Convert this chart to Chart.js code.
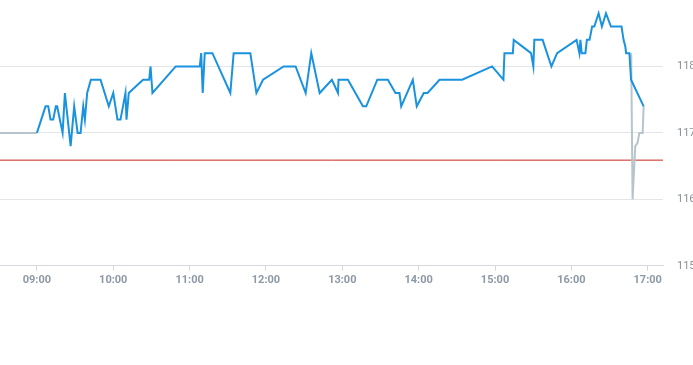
<!DOCTYPE html>
<html>
<head>
<meta charset="utf-8">
<script src="https://cdn.jsdelivr.net/npm/chart.js@4/dist/chart.umd.min.js"></script>
<style>
html,body{margin:0;padding:0;background:#fff;}
#wrap{position:relative;width:693px;height:290px;}
</style>
</head>
<body>
<div id="wrap"><canvas id="c"></canvas></div>
<script>
// minutes after 09:00
const priceTimes = [0,6.8,8.9,10.7,12.8,14.9,15.9,20.2,22.0,26.5,29.3,32.0,34.3,36.4,37.7,39.5,42.4,50.0,56.5,60.0,63.3,65.7,69.6,70.4,72.2,83.4,88.2,89.3,90.8,109.1,128.0,129.1,130.3,131.9,137.9,152.0,154.6,167.7,172.5,177.7,193.9,203.3,211.2,215.6,222.2,231.8,236.6,237.0,244.4,256.2,258.8,267.5,275.8,281.8,284.9,286.3,295.4,298.5,304.0,307.0,316.4,334.2,357.7,366.6,367.4,374.0,374.7,388.3,390.1,390.9,397.4,404.3,408.8,424.1,426.3,427.1,428.1,431.0,432.2,434.3,436.3,438.0,441.4,444.0,447.2,451.1,459.4,461.0,462.4,463.0,465.6,466.9,476.8];
const priceValues = [117.0,117.4,117.4,117.2,117.2,117.4,117.4,117.0,117.6,116.8,117.4,117.0,117.0,117.4,117.2,117.6,117.8,117.8,117.4,117.6,117.2,117.2,117.6,117.2,117.6,117.8,117.8,118.0,117.6,118.0,118.0,118.2,117.6,118.2,118.2,117.6,118.2,118.2,117.6,117.8,118.0,118.0,117.6,118.2,117.6,117.8,117.6,117.8,117.8,117.4,117.4,117.8,117.8,117.6,117.6,117.4,117.8,117.4,117.6,117.6,117.8,117.8,118.0,117.8,118.2,118.2,118.4,118.2,118.0,118.4,118.4,118.0,118.2,118.4,118.2,118.4,118.2,118.2,118.4,118.4,118.6,118.6,118.8,118.6,118.8,118.6,118.6,118.4,118.3,118.2,118.2,117.8,117.4];
const extTimes = [-29,0,null,467.0,468.1,470.2,472.0,473.4,476.0,476.8];
const extValues = [117.0,117.0,null,118.2,116.0,116.8,116.85,117.0,117.0,117.4];
const refLevel = 116.59;
const yTickValues = [115,116,117,118];
const xTickMinutes = [0,60,120,180,240,300,360,420,480];
const xTickLabels = ["09:00","10:00","11:00","12:00","13:00","14:00","15:00","16:00","17:00"];
const xMin = -29, xMax = 492, yMin = 115, yMax = 119;

const pricePts = priceTimes.map((t,i)=>({x:t,y:priceValues[i]}));
const extPts = extTimes.map((t,i)=>({x:t===null?NaN:t,y:extValues[i]}));
const refPts = [{x:xMin,y:refLevel},{x:xMax,y:refLevel}];

new Chart(document.getElementById('c'), {
  type: 'line',
  data: {
    datasets: [
      {data: pricePts, borderColor:'#1a93df', borderWidth:2, pointRadius:0, tension:0, fill:false, order:1},
      {data: extPts, borderColor:'#b7c4cc', borderWidth:2, pointRadius:0, tension:0, fill:false, spanGaps:false, order:2},
      {data: refPts, borderColor:'#c8261e', borderWidth:1, pointRadius:0, tension:0, fill:false, order:3}
    ]
  },
  options: {
    animation:false,
    responsive:true,
    maintainAspectRatio:false,
    layout:{padding:0},
    plugins:{legend:{display:false},tooltip:{enabled:false}},
    scales:{
      x:{
        type:'linear', min:xMin, max:xMax,
        afterBuildTicks:(s)=>{ s.ticks = xTickMinutes.map(v=>({value:v})); },
        ticks:{
          autoSkip:false, maxRotation:0, padding:3,
          color:'#8d99a6', font:{family:'Roboto, "Open Sans", sans-serif', size:11, weight:'bold'},
          callback:(v)=>{ const i = xTickMinutes.indexOf(v); return i>=0 ? xTickLabels[i] : ''; }
        },
        grid:{drawOnChartArea:false, drawTicks:true, tickLength:5, color:'#d5d9de'},
        border:{display:true, color:'#d5d9de'}
      },
      y:{
        position:'right', min:yMin, max:yMax,
        afterBuildTicks:(s)=>{ s.ticks = yTickValues.map(v=>({value:v})); },
        afterFit:(s)=>{ s.width = 30; s.paddingTop = 0; s.paddingBottom = 0; },
        ticks:{
          padding:14, color:'#8a9097',
          font:{family:'Roboto, "Open Sans", sans-serif', size:11},
          callback:(v)=>String(v)
        },
        grid:{drawTicks:false, color:'#e3e5e8'},
        border:{display:false}
      }
    }
  }
});
</script>
</body>
</html>
